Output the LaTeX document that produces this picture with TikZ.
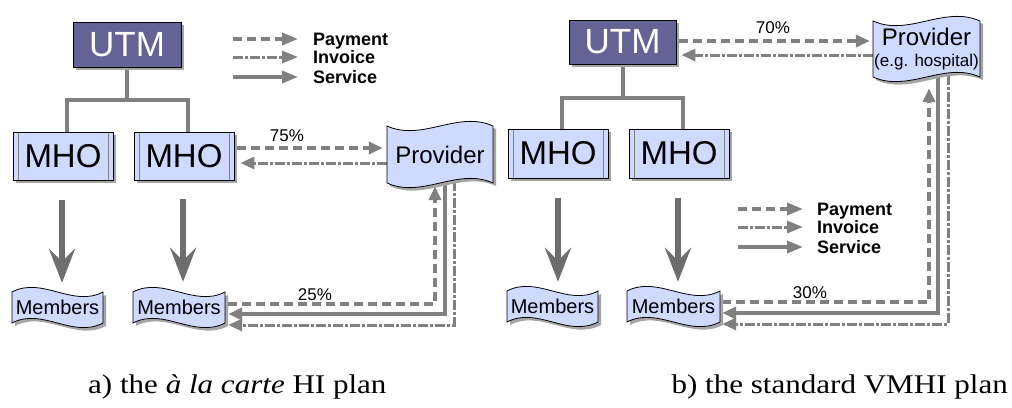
\documentclass[tikz,border=0pt]{standalone}
\usepackage{fontspec}
\setmainfont{Liberation Serif}
\newfontfamily\arial{Liberation Sans}
\usetikzlibrary{arrows.meta,calc,shadows}
\definecolor{utmfill}{RGB}{99,99,150}
\definecolor{boxfill}{RGB}{206,218,255}
\definecolor{lgray}{RGB}{128,128,128}
\definecolor{dgray}{RGB}{110,110,110}
\definecolor{shadowc}{RGB}{165,165,165}
\pgfdeclarelayer{back}
\pgfdeclarelayer{bg}
\pgfsetlayers{back,bg,main}
\tikzset{
  boxshadow/.style={drop shadow={shadow xshift=3pt,shadow yshift=-3pt,fill=shadowc,opacity=1}},
  utmbox/.style={draw=black,fill=utmfill,text=white,line width=0.8pt,minimum width=108pt,minimum height=45pt,inner sep=0pt,font=\arial\fontsize{35}{38}\selectfont,boxshadow},
  mhobox/.style={draw=black,fill=boxfill,line width=0.8pt,minimum width=100pt,minimum height=48pt,inner sep=0pt,font=\arial\fontsize{33}{36}\selectfont,boxshadow,
    path picture={\draw[gray,line width=0.8pt] ([xshift=5pt]path picture bounding box.north west) -- ([xshift=5pt]path picture bounding box.south west);
                  \draw[gray,line width=0.8pt] ([xshift=-5pt]path picture bounding box.north east) -- ([xshift=-5pt]path picture bounding box.south east);}},
  tree/.style={draw=lgray,line width=4pt},
  conn/.style={draw=lgray,line width=3.5pt},
  tipc/.style={-{Triangle[length=14pt,width=12pt]}},
  tipl/.style={-{Triangle[length=16pt,width=12pt]}},
  pay/.style={conn,dash pattern=on 9pt off 5pt},
  inv/.style={conn,line width=3pt,dash pattern=on 10pt off 2pt on 3pt off 2pt},
  svc/.style={conn},
  big/.style={draw=dgray,line width=6pt,-{Stealth[length=34pt,width=26pt,inset=13pt]}},
  pct/.style={font=\arial\fontsize{17}{20}\selectfont,inner sep=0pt},
  leg/.style={font=\arial\bfseries\fontsize{18}{20}\selectfont,inner sep=0pt,anchor=base west},
  captxt/.style={font=\fontsize{27}{30}\selectfont,inner sep=0pt,anchor=base west}
}
% name, L, T, R, B, phase, font, text
\newcommand\wavebox[8]{%
  \pgfmathsetmacro\wbw{#4-(#2)}%
  \pgfmathsetmacro\wbh{#5-(#3)}%
  \fill[shadowc,shift={(3,3)}] (#2,#3) .. controls ({#2+\wbw/3},{#3-(#6)*16}) and ({#2+2*\wbw/3},{#3+(#6)*16}) .. (#4,#3) -- (#4,#5) .. controls ({#2+2*\wbw/3},{#5+(#6)*16}) and ({#2+\wbw/3},{#5-(#6)*16}) .. (#2,#5) -- cycle;
  \draw[fill=boxfill,line width=0.8pt] (#2,#3) .. controls ({#2+\wbw/3},{#3-(#6)*16}) and ({#2+2*\wbw/3},{#3+(#6)*16}) .. (#4,#3) -- (#4,#5) .. controls ({#2+2*\wbw/3},{#5+(#6)*16}) and ({#2+\wbw/3},{#5-(#6)*16}) .. (#2,#5) -- cycle;
  \node[inner sep=0pt,minimum width=\wbw pt,minimum height=\wbh pt,align=center,font=#7] (#1) at ({(#2+#4)/2},{(#3+#5)/2}) {#8};%
}
\begin{document}
\begin{tikzpicture}[x=1pt,y=-1pt]
\begin{pgfonlayer}{back}
\fill[white] (0,0) rectangle (1012,407);
\end{pgfonlayer}
\useasboundingbox (0,0) rectangle (1012,407);

% ---------------- left panel ----------------
\node[utmbox] (utmL) at (127,44.5) {UTM};
\node[mhobox] (mhoL1) at (63,156) {MHO};
\node[mhobox] (mhoL2) at (184,156) {MHO};
\wavebox{provL}{387}{126}{493}{183}{-1}{\arial\fontsize{24}{26}\selectfont}{Provider}
\wavebox{memL1}{12}{292}{103}{323}{1}{\arial\fontsize{20}{22}\selectfont}{Members}
\wavebox{memL2}{133}{292}{225}{323}{1}{\arial\fontsize{20}{22}\selectfont}{Members}

\coordinate (lpL) at (233,39);
\coordinate (liL) at (233,57);
\coordinate (lsL) at (233,77);
\node[leg] (lgPL) at (313,45) {Payment};
\node[leg] (lgIL) at (313,63) {Invoice};
\node[leg] (lgSL) at (313,83) {Service};

\node[pct] (p75) at (287,136) {75\%};
\node[pct] (p25) at (315,295) {25\%};

% ---------------- right panel ----------------
\node[utmbox,minimum width=107pt,minimum height=44pt] (utmR) at (622.5,42) {UTM};
\node[mhobox,minimum height=49pt] (mhoR1) at (558,153.5) {MHO};
\node[mhobox,minimum height=49pt] (mhoR2) at (679,153.5) {MHO};
\wavebox{provR}{873}{21}{980}{77}{-1}{\arial\fontsize{24}{23}\selectfont}{Provider\\[-2pt]{\fontsize{17}{19}\selectfont(e.g. hospital)}}
\wavebox{memR1}{507}{291}{598}{322}{1}{\arial\fontsize{20}{22}\selectfont}{Members}
\wavebox{memR2}{627}{291}{720}{322}{1}{\arial\fontsize{20}{22}\selectfont}{Members}

\coordinate (lpR) at (738,209);
\coordinate (liR) at (738,227);
\coordinate (lsR) at (738,247);
\node[leg] (lgPR) at (817,215) {Payment};
\node[leg] (lgIR) at (817,233) {Invoice};
\node[leg] (lgSR) at (817,253) {Service};

\node[pct] (p70) at (773,28) {70\%};
\node[pct] (p30) at (810,293) {30\%};

\node[captxt] (capA) at (88,393) {\scalebox{1.15}[1]{a) the \textit{à la carte} HI plan}};
\node[captxt,anchor=base east] (capB) at (1008,393) {\scalebox{1.15}[1]{b) the standard VMHI plan}};

\begin{pgfonlayer}{bg}
% legends
\draw[pay,tipl] (lpL) -- ($(lpL -| lgPL.west)+(-15,0)$);
\draw[inv,tipl] (liL) -- ($(liL -| lgIL.west)+(-15,0)$);
\draw[svc,tipl] (lsL) -- ($(lsL -| lgSL.west)+(-15,0)$);
\draw[pay,tipl] (lpR) -- ($(lpR -| lgPR.west)+(-14,0)$);
\draw[inv,tipl] (liR) -- ($(liR -| lgIR.west)+(-14,0)$);
\draw[svc,tipl] (lsR) -- ($(lsR -| lgSR.west)+(-14,0)$);

% trees
\draw[tree] (utmL.south) -- ($(utmL.south)+(0,33)$) coordinate (jL);
\draw[tree] ($(mhoL1.north)+(4,0)$) |- (jL) -| ($(mhoL2.north)+(4,0)$);
\draw[tree] (utmR.south) -- ($(utmR.south)+(0,34)$) coordinate (jR);
\draw[tree] ($(mhoR1.north)+(4,0)$) |- (jR) -| ($(mhoR2.north)+(4,0)$);

% big arrows
\draw[big] ($(mhoL1.south)+(-1,20)$) -- ($(memL1.north)+(4.5,-9)$);
\draw[big] ($(mhoL2.south)+(-1,19)$) -- ($(memL2.north)+(4,-10)$);
\draw[big] ($(mhoR1.south)+(0,20)$) -- ($(memR1.north)+(5.5,-9)$);
\draw[big] ($(mhoR2.south)+(-1,20)$) -- ($(memR2.north)+(4.5,-9)$);

% left connectors
\draw[pay,tipc] ($(mhoL2.east)+(3,-8)$) -- ($(provL.west)+(-4,-6.5)$);
\draw[inv,tipc] ($(provL.west)+(0,8.5)$) -- ($(mhoL2.east)+(6,7)$);
\draw[pay,tipc] ($(memL2.east)+(3,-3.5)$) -| ($(provL.south)+(-5,3)$);
\draw[svc,tipc] ($(provL.south)+(5,0)$) |- ($(memL2.east)+(3,6.5)$);
\draw[inv,tipc] ($(provL.south)+(14,-2)$) |- ($(memL2.east)+(3,17.5)$);

% right connectors
\draw[pay,tipc] ($(utmR.east)+(3,-1)$) -- ($(provR.west)+(-3,-8)$);
\draw[inv,tipc] ($(provR.west)+(0,6)$) -- ($(utmR.east)+(5,13)$);
\draw[pay,tipc] ($(memR2.east)+(2,-4.5)$) -| ($(provR.south)+(2.5,11)$);
\draw[svc,tipc] ($(provR.south)+(11.5,0)$) |- ($(memR2.east)+(2,6.5)$);
\draw[inv,tipc] ($(provR.south)+(21.5,-2)$) |- ($(memR2.east)+(2,17.5)$);
\end{pgfonlayer}
\end{tikzpicture}
\end{document}
